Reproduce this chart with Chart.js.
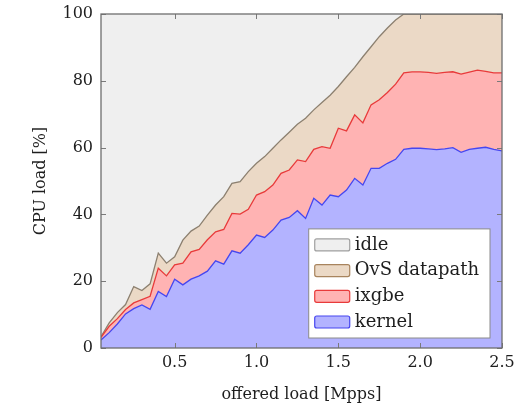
<!DOCTYPE html>
<html>
<head>
<meta charset="utf-8">
<script src="https://cdn.jsdelivr.net/npm/chart.js@4.4.0/dist/chart.umd.min.js"></script>
<style>
  body { margin: 0; background: #fff; }
  canvas { display: block; }
</style>
</head>
<body>
<canvas id="cpuChart" width="528" height="406"></canvas>
<script>
// offered load [Mpps]
const offeredLoad = [
  0.05, 0.10, 0.15, 0.20, 0.25, 0.30, 0.35, 0.40, 0.45, 0.50,
  0.55, 0.60, 0.65, 0.70, 0.75, 0.80, 0.85, 0.90, 0.95, 1.00,
  1.05, 1.10, 1.15, 1.20, 1.25, 1.30, 1.35, 1.40, 1.45, 1.50,
  1.55, 1.60, 1.65, 1.70, 1.75, 1.80, 1.85, 1.90, 1.95, 2.00,
  2.05, 2.10, 2.15, 2.20, 2.25, 2.30, 2.35, 2.40, 2.45, 2.50
];

// upper edge of each stacked band, CPU load [%]
const kernelTop = [
  2.4, 4.6, 7.2, 10.2, 11.8, 12.9, 11.6, 16.9, 15.4, 20.6,
  18.9, 20.6, 21.6, 23.0, 26.1, 25.1, 29.1, 28.4, 30.9, 33.8,
  33.1, 35.3, 38.3, 39.1, 41.1, 38.8, 44.8, 42.8, 45.8, 45.3,
  47.3, 50.8, 48.8, 53.8, 53.8, 55.3, 56.5, 59.5, 59.8, 59.8,
  59.6, 59.4, 59.6, 60.0, 58.6, 59.5, 59.8, 60.1, 59.5, 59.0
];
const ixgbeTop = [
  3.2, 6.5, 8.8, 11.5, 13.5, 14.5, 15.5, 23.9, 21.6, 24.9,
  25.4, 28.8, 29.5, 32.4, 34.8, 35.5, 40.3, 40.1, 41.5, 45.8,
  46.8, 48.8, 52.3, 53.3, 56.3, 55.8, 59.5, 60.3, 59.8, 65.8,
  65.0, 69.8, 67.4, 72.8, 74.3, 76.5, 79.0, 82.4, 82.7, 82.7,
  82.5, 82.2, 82.5, 82.7, 82.0, 82.6, 83.2, 82.8, 82.4, 82.4
];
const ovsTop = [
  3.4, 7.5, 10.6, 13.0, 18.4, 17.2, 19.2, 28.4, 25.4, 27.3,
  32.3, 35.0, 36.5, 39.8, 42.8, 45.3, 49.3, 49.8, 52.8, 55.3,
  57.3, 59.8, 62.3, 64.6, 67.0, 68.8, 71.3, 73.5, 75.7, 78.3,
  81.2, 84.0, 87.2, 90.2, 93.2, 95.8, 98.2, 100, 100, 100,
  100, 100, 100, 100, 100, 100, 100, 100, 100, 100
];
const idleTop = [
  100, 100, 100, 100, 100, 100, 100, 100, 100, 100,
  100, 100, 100, 100, 100, 100, 100, 100, 100, 100,
  100, 100, 100, 100, 100, 100, 100, 100, 100, 100,
  100, 100, 100, 100, 100, 100, 100, 100, 100, 100,
  100, 100, 100, 100, 100, 100, 100, 100, 100, 100
];

const xTicks = [0.5, 1, 1.5, 2, 2.5];
const yTicks = [0, 20, 40, 60, 80, 100];

function pts(vals) {
  return vals.map((v, i) => ({ x: offeredLoad[i], y: v }));
}

Chart.defaults.font.family = "'DejaVu Serif', serif";
Chart.defaults.font.size = 16;
Chart.defaults.color = '#1e1e1e';

// pgfplots-like frame, inward ticks and legend inside the plot
const framePlugin = {
  id: 'frame',
  afterDatasetsDraw(chart) {
    const { ctx, chartArea: a, scales: { x, y } } = chart;
    ctx.save();
    ctx.strokeStyle = '#7a7a7a';
    ctx.lineWidth = 1;
    ctx.beginPath();
    xTicks.forEach(v => {
      const px = Math.round(x.getPixelForValue(v)) + 0.5;
      ctx.moveTo(px, a.bottom); ctx.lineTo(px, a.bottom - 5);
      ctx.moveTo(px, a.top); ctx.lineTo(px, a.top + 5);
    });
    yTicks.forEach(v => {
      const py = Math.round(y.getPixelForValue(v)) + 0.5;
      ctx.moveTo(a.left, py); ctx.lineTo(a.left + 5, py);
      ctx.moveTo(a.right, py); ctx.lineTo(a.right - 5, py);
    });
    ctx.stroke();
    ctx.lineWidth = 1.3;
    ctx.strokeStyle = '#6e6e6e';
    ctx.strokeRect(a.left, a.top, a.right - a.left, a.bottom - a.top);

    // legend
    const items = chart.data.datasets.slice().reverse();
    ctx.font = "18px 'DejaVu Serif', serif";
    const textW = Math.max(...items.map(d => ctx.measureText(d.label).width));
    const rowH = 25.7;
    const w = 6 + 35 + 6 + textW + 10;
    const h = 16 * 2 + rowH * (items.length - 1);
    const bx = a.right - 12 - w;
    const by = a.bottom - 10 - h;
    ctx.fillStyle = '#ffffff';
    ctx.fillRect(bx, by, w, h);
    ctx.lineWidth = 1;
    ctx.strokeStyle = '#8a8a8a';
    ctx.strokeRect(bx, by, w, h);
    items.forEach((d, i) => {
      const cy = by + 16 + i * rowH;
      ctx.fillStyle = d.backgroundColor;
      ctx.strokeStyle = d.swatchBorder;
      ctx.lineWidth = 1.2;
      ctx.beginPath();
      ctx.roundRect(bx + 6, cy - 6, 35, 12, 2);
      ctx.fill();
      ctx.stroke();
      ctx.fillStyle = '#1e1e1e';
      ctx.textBaseline = 'middle';
      ctx.textAlign = 'left';
      ctx.fillText(d.label, bx + 6 + 35 + 5, cy);
    });
    ctx.restore();
  }
};

const ctx = document.getElementById('cpuChart').getContext('2d');
new Chart(ctx, {
  type: 'line',
  data: {
    datasets: [
      {
        label: 'kernel',
        data: pts(kernelTop),
        borderColor: '#4646f0',
        backgroundColor: '#b3b3ff',
        swatchBorder: '#4646f0',
        borderWidth: 1.3,
        fill: 'origin'
      },
      {
        label: 'ixgbe',
        data: pts(ixgbeTop),
        borderColor: '#e83a3a',
        backgroundColor: '#ffb3b3',
        swatchBorder: '#e83a3a',
        borderWidth: 1.3,
        fill: '-1'
      },
      {
        label: 'OvS datapath',
        data: pts(ovsTop),
        borderColor: '#8c8070',
        backgroundColor: '#ebd9c6',
        swatchBorder: '#a8845e',
        borderWidth: 1.3,
        fill: '-1'
      },
      {
        label: 'idle',
        data: pts(idleTop),
        borderColor: 'rgba(0,0,0,0)',
        backgroundColor: '#efefef',
        swatchBorder: '#a0a0a0',
        borderWidth: 0,
        fill: '-1'
      }
    ]
  },
  options: {
    responsive: false,
    animation: false,
    devicePixelRatio: 1,
    layout: { padding: { top: 14, right: 26, left: 0, bottom: 0 } },
    elements: { point: { radius: 0 }, line: { tension: 0 } },
    plugins: {
      legend: { display: false },
      tooltip: { enabled: false }
    },
    scales: {
      x: {
        type: 'linear',
        min: 0.05,
        max: 2.5,
        grid: { display: false, drawTicks: false },
        border: { display: false },
        afterBuildTicks: s => { s.ticks = xTicks.map(v => ({ value: v })); },
        afterFit: s => { s.height = 58; s.paddingLeft = 0; s.paddingRight = 0; },
        ticks: { padding: 5 },
        title: { display: true, text: 'offered load [Mpps]', padding: { top: 2, bottom: 2 } }
      },
      y: {
        min: 0,
        max: 100,
        grid: { display: false, drawTicks: false },
        border: { display: false },
        afterBuildTicks: s => { s.ticks = yTicks.map(v => ({ value: v })); },
        afterFit: s => { s.width = 101; s.paddingTop = 0; s.paddingBottom = 0; },
        ticks: { padding: 8 },
        title: { display: true, text: 'CPU load [%]', padding: { top: 31, bottom: 31 } }
      }
    }
  },
  plugins: [framePlugin]
});
</script>
</body>
</html>
